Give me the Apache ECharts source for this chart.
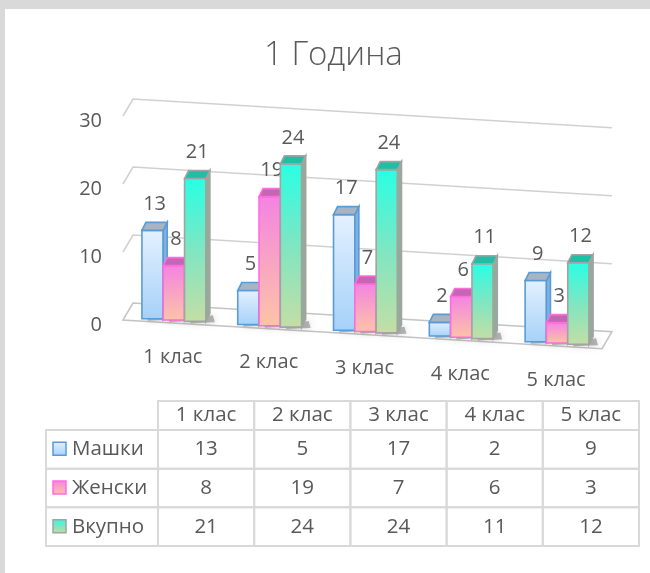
<!DOCTYPE html>
<html><head><meta charset="utf-8">
<script src="https://cdn.jsdelivr.net/npm/echarts@6/dist/echarts.min.js"></script>
<style>html,body{margin:0;padding:0;background:#fff}#c{width:650px;height:573px}</style>
</head><body><div id="c"></div>
<script>
// ---- data ----
const categories = ['1 клас', '2 клас', '3 клас', '4 клас', '5 клас'];
const seriesNames = ['Машки', 'Женски', 'Вкупно'];
const boys = [13, 5, 17, 2, 9];
const girls = [8, 19, 7, 6, 3];
const total = [21, 24, 24, 11, 12];
const yTicks = [0, 10, 20, 30];
const chartTitle = '1 Година';

// ---- 3D look constants ----
const SLOPE = 0.06;          // perspective slope of the floor / walls
const BACK = [10, -17];      // front -> back wall offset
const BAR_OFF = [3, -3];     // bar front plane offset from floor front
const DEPTH = [4, -8];       // bar depth
const FONT = '"Open Sans", "Noto Sans", sans-serif';
const TXT = '#595959';
const G = echarts.graphic;
const lg = (a, b, c) => new G.LinearGradient(0, 0, 0, 1, c ? [{offset:0,color:a},{offset:0.5,color:b},{offset:1,color:c}] : [{offset:0,color:a},{offset:1,color:b}]);

const styles = [
  { front: () => lg('#e4f1ff', '#a5d1f8'), side: '#7fb2e2', top: '#a8b4c2', stroke: '#5b9bd5' },
  { front: () => lg('#f483e2', '#fdc4a6'), side: '#e27ccc', top: '#c466b2', stroke: '#ff6be0' },
  { front: () => lg('#28ffe4', '#7fe6c2', '#c4dea4'), side: '#8fae95', top: '#1fbfa5', stroke: '#a3a3a3' }
];
const values = [boys, girls, total];

function barRender(sIdx) {
  const st = styles[sIdx];
  return function (params, api) {
    const cs = params.coordSys;
    const i = api.value(0), v = api.value(1);
    const band = api.size([1, 0])[0];
    const w = band * 0.2225;
    const c = api.coord([i, v]);
    const b = api.coord([i, 0]);
    const cx = c[0] + (sIdx - 1) * w + BAR_OFF[0];
    const sk = SLOPE * (cx - cs.x) + BAR_OFF[1];
    const top = c[1] + sk, bot = b[1] + sk;
    const xl = cx - w / 2, xr = cx + w / 2;
    const dx = DEPTH[0], dy = DEPTH[1];
    return {
      type: 'group', children: [
        { type: 'polygon', shape: { points: [[xl + 4, bot - 3], [xr + dx + 3, bot - 6], [xr + dx + 5, bot + 1], [xl + 6, bot + 2]] },
          style: { fill: 'rgba(60,60,60,0.35)', shadowBlur: 7, shadowColor: 'rgba(0,0,0,0.45)' } },
        { type: 'rect', shape: { x: xl, y: top, width: w, height: bot - top }, style: { fill: st.front(), stroke: st.stroke, lineWidth: 1.6 } },
        { type: 'polygon', shape: { points: [[xr, top], [xr + dx, top + dy], [xr + dx, bot + dy], [xr, bot]] }, style: { fill: st.side, stroke: st.stroke, lineWidth: 1.6 } },
        { type: 'polygon', shape: { points: [[xl, top], [xl + dx, top + dy], [xr + dx, top + dy], [xr, top]] }, style: { fill: st.top, stroke: st.stroke, lineWidth: 1.6 } },
        { type: 'text', style: { text: String(v), x: cx + 2, y: top - 26, textAlign: 'center', textVerticalAlign: 'middle', align: 'center', verticalAlign: 'middle', fontSize: 20, fontFamily: FONT, fill: TXT } }
      ]
    };
  };
}

function gridRender(params, api) {
  const cs = params.coordSys;
  const v = api.value(0);
  const y = api.coord([0, v])[1];
  const x0 = cs.x, x1 = cs.x + cs.width;
  const s = SLOPE * (x1 - x0);
  if (v === 0) {
    return { type: 'polygon', shape: { points: [[x0, y], [x0 + BACK[0], y + BACK[1]], [x1 + BACK[0], y + BACK[1] + s], [x1, y + s]] },
      style: { fill: '#ffffff', stroke: '#c4c4c4', lineWidth: 1.5 } };
  }
  return { type: 'polyline', shape: { points: [[x0, y], [x0 + BACK[0], y + BACK[1]], [x1 + BACK[0], y + BACK[1] + s]] },
    style: { fill: null, stroke: '#d0d0d0', lineWidth: 1.5 } };
}

function catLabelRender(params, api) {
  const cs = params.coordSys;
  const i = api.value(0);
  const p = api.coord([i, 0]);
  const x = p[0] + 2;
  const y = p[1] + SLOPE * (x - cs.x) + 34;
  return { type: 'text', style: { text: categories[i], x: x, y: y, textAlign: 'center', textVerticalAlign: 'middle', align: 'center', verticalAlign: 'middle', fontSize: 20, fontFamily: FONT, fill: TXT } };
}

// ---- table ----
const LINE = '#d9d9d9';
const tableCells = [];
values.forEach((arr, r) => arr.forEach((v, c) => tableCells.push([c, r, v])));

function cellRender(params, api) {
  const c = api.coord([api.value(0), api.value(1)]);
  const sz = api.size([1, 1]);
  return { type: 'group', children: [
    { type: 'rect', shape: { x: c[0] - sz[0] / 2, y: c[1] - sz[1] / 2, width: sz[0], height: sz[1] }, style: { fill: null, stroke: LINE, lineWidth: 2 } },
    { type: 'text', style: { text: String(api.value(2)), x: c[0], y: c[1], textAlign: 'center', textVerticalAlign: 'middle', align: 'center', verticalAlign: 'middle', fontSize: 20.5, fontFamily: FONT, fill: TXT } }
  ]};
}
function headRender(params, api) {
  const cs = params.coordSys;
  const i = api.value(0);
  const c = api.coord([i, 0]);
  const sz = api.size([1, 1]);
  const h = 29;
  return { type: 'group', children: [
    { type: 'rect', shape: { x: c[0] - sz[0] / 2, y: cs.y - h, width: sz[0], height: h }, style: { fill: null, stroke: LINE, lineWidth: 2 } },
    { type: 'text', style: { text: categories[i], x: c[0], y: cs.y - h / 2, textAlign: 'center', textVerticalAlign: 'middle', align: 'center', verticalAlign: 'middle', fontSize: 20.5, fontFamily: FONT, fill: TXT } }
  ]};
}
function rowRender(params, api) {
  const cs = params.coordSys;
  const r = api.value(0);
  const c = api.coord([0, r]);
  const sz = api.size([1, 1]);
  const left = 46;
  const st = styles[r];
  return { type: 'group', children: [
    { type: 'rect', shape: { x: left, y: c[1] - sz[1] / 2, width: cs.x - left, height: sz[1] }, style: { fill: null, stroke: LINE, lineWidth: 2 } },
    { type: 'rect', shape: { x: left + 7, y: c[1] - 7, width: 13, height: 13 }, style: { fill: st.front(), stroke: st.stroke, lineWidth: 1.5 } },
    { type: 'text', style: { text: seriesNames[r], x: left + 26, y: c[1], textAlign: 'left', textVerticalAlign: 'middle', align: 'left', verticalAlign: 'middle', fontSize: 20.5, fontFamily: FONT, fill: TXT } }
  ]};
}

const chart = echarts.init(document.getElementById('c'), null, { renderer: 'canvas' });
chart.setOption({
  backgroundColor: '#ffffff',
  animation: false,
  title: { text: chartTitle, left: 259, top: 34,
    textStyle: { fontFamily: FONT, fontSize: 33, fontWeight: 300, color: TXT } },
  graphic: [
    { type: 'rect', left: 0, top: 0, shape: { width: 650, height: 9 }, style: { fill: '#d9d9d9' }, silent: true },
    { type: 'rect', left: 0, top: 0, shape: { width: 5, height: 573 }, style: { fill: '#d9d9d9' }, silent: true }
  ],
  grid: [
    { left: 123, right: 48, top: 116, bottom: 253 },
    { left: 158, right: 11, top: 430, height: 116 }
  ],
  xAxis: [
    { type: 'category', data: categories, gridIndex: 0, show: false },
    { type: 'category', data: categories, gridIndex: 1, show: false }
  ],
  yAxis: [
    { type: 'value', gridIndex: 0, min: 0, max: 30, interval: 10,
      axisLine: { show: false }, axisTick: { show: false }, splitLine: { show: false },
      axisLabel: { margin: 21, fontSize: 20, fontFamily: FONT, color: TXT, verticalAlign: 'top', lineHeight: 10 } },
    { type: 'category', data: seriesNames, gridIndex: 1, inverse: true, show: false }
  ],
  series: [
    { type: 'custom', name: 'grid', xAxisIndex: 0, yAxisIndex: 0, data: yTicks.map(v => [v]), renderItem: gridRender, silent: true, z: 1 },
    { type: 'custom', name: seriesNames[0], xAxisIndex: 0, yAxisIndex: 0, data: boys.map((v, i) => [i, v]), renderItem: barRender(0), z: 2 },
    { type: 'custom', name: seriesNames[1], xAxisIndex: 0, yAxisIndex: 0, data: girls.map((v, i) => [i, v]), renderItem: barRender(1), z: 3 },
    { type: 'custom', name: seriesNames[2], xAxisIndex: 0, yAxisIndex: 0, data: total.map((v, i) => [i, v]), renderItem: barRender(2), z: 4 },
    { type: 'custom', name: 'catLabels', xAxisIndex: 0, yAxisIndex: 0, data: categories.map((c, i) => [i]), renderItem: catLabelRender, silent: true, z: 5 },
    { type: 'custom', name: 'cells', xAxisIndex: 1, yAxisIndex: 1, data: tableCells, renderItem: cellRender, silent: true },
    { type: 'custom', name: 'head', xAxisIndex: 1, yAxisIndex: 1, data: categories.map((c, i) => [i]), renderItem: headRender, silent: true },
    { type: 'custom', name: 'rows', xAxisIndex: 1, yAxisIndex: 1, data: seriesNames.map((n, r) => [r]), renderItem: rowRender, silent: true }
  ]
});
</script></body></html>
